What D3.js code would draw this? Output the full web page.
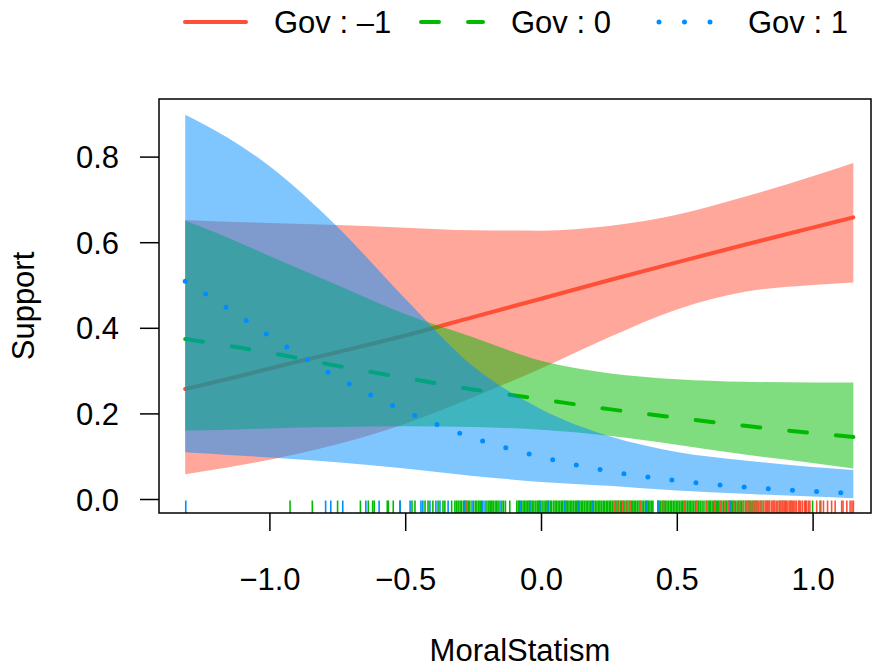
<!DOCTYPE html>
<html>
<head>
<meta charset="utf-8">
<script src="https://cdn.jsdelivr.net/npm/d3@7"></script>
<style>
  body { margin: 0; background: #fff; }
  svg { display: block; font-family: "Liberation Sans", Arial, Helvetica, sans-serif; }
</style>
</head>
<body>
<div id="chart"></div>
<script>
// effect of MoralStatism on Support, by Gov (-1, 0, 1)
const xs = [-1.31, -1.15, -1.0, -0.75, -0.5, -0.25, 0, 0.25, 0.5, 0.75, 1.0, 1.15];

const fitNeg = [0.257, 0.281, 0.305, 0.343, 0.382, 0.425, 0.468, 0.511, 0.553, 0.594, 0.634, 0.658];
const lowNeg = [0.058, 0.074, 0.092, 0.128, 0.176, 0.238, 0.305, 0.378, 0.443, 0.484, 0.500, 0.506];
const upNeg = [0.652, 0.648, 0.645, 0.640, 0.634, 0.628, 0.627, 0.638, 0.664, 0.706, 0.754, 0.785];

const fitZero = [0.374, 0.358, 0.342, 0.311, 0.283, 0.256, 0.233, 0.210, 0.190, 0.171, 0.154, 0.145];
const lowZero = [0.160, 0.162, 0.165, 0.168, 0.170, 0.168, 0.162, 0.148, 0.127, 0.104, 0.084, 0.071];
const upZero = [0.650, 0.610, 0.568, 0.500, 0.432, 0.378, 0.323, 0.294, 0.280, 0.274, 0.272, 0.272];

const fitPos = [0.509, 0.444, 0.381, 0.284, 0.205, 0.143, 0.098, 0.065, 0.043, 0.028, 0.018, 0.013];
const lowPos = [0.109, 0.103, 0.097, 0.086, 0.071, 0.054, 0.040, 0.031, 0.020, 0.012, 0.006, 0.002];
const upPos = [0.898, 0.843, 0.778, 0.636, 0.468, 0.310, 0.210, 0.147, 0.110, 0.090, 0.075, 0.068];

// rug of observed MoralStatism values
const rugNeg = [-0.272, 0.272, 0.283, 0.301, 0.317, 0.328, 0.365, 0.451, 0.53, 0.573, 0.61, 0.64,
  0.662, 0.678, 0.69, 0.71, 0.73, 0.745, 0.755, 0.762, 0.768, 0.776, 0.784, 0.79, 0.796, 0.8, 0.806,
  0.812, 0.82, 0.826, 0.83, 0.836, 0.842, 0.849, 0.854, 0.86, 0.866, 0.872, 0.88, 0.884, 0.89,
  0.896, 0.903, 0.909, 0.915, 0.92, 0.925, 0.93, 0.935, 0.94, 0.948, 0.955, 0.962, 0.97, 0.978,
  0.985, 0.99, 1.015, 1.027, 1.04, 1.055, 1.07, 1.083, 1.107, 1.112, 1.126, 1.138, 1.145, 1.15];
const rugZero = [-0.924, -0.842, -0.749, -0.665, -0.636, -0.620, -0.614, -0.566, -0.562, -0.544,
  -0.519, -0.475, -0.464, -0.427, -0.416, -0.398, -0.379, -0.361, -0.354, -0.329,
  -0.317, -0.311, -0.305, -0.298, -0.293, -0.286, -0.281, -0.275, -0.268, -0.262, -0.248, -0.241,
  -0.236, -0.229, -0.224, -0.218, -0.199, -0.192, -0.187, -0.181, -0.176, -0.169, -0.163, -0.158,
  -0.144, -0.138, -0.131, -0.115, -0.089, -0.083, -0.079, -0.072, -0.066, -0.06, -0.055, -0.049,
  -0.044, -0.037, -0.031, -0.026, -0.019, -0.013, -0.008, -0.002, 0.004, 0.011, 0.017, 0.022,
  0.028, 0.034, 0.039, 0.046, 0.052, 0.057, 0.063, 0.069, 0.075, 0.08, 0.086, 0.092, 0.097, 0.103,
  0.109, 0.114, 0.12, 0.126, 0.131, 0.137, 0.143, 0.149, 0.154, 0.16, 0.166, 0.171, 0.177, 0.183,
  0.189, 0.194, 0.2, 0.206, 0.212, 0.217, 0.223, 0.229, 0.234, 0.24, 0.246, 0.252, 0.257, 0.263,
  0.269, 0.275, 0.28, 0.286, 0.292, 0.297, 0.303, 0.309, 0.315, 0.32, 0.326, 0.332, 0.338, 0.343,
  0.349, 0.355, 0.361, 0.366, 0.372, 0.378, 0.384, 0.389, 0.395, 0.401, 0.407, 0.412, 0.43, 0.435,
  0.441, 0.447, 0.453, 0.458, 0.464, 0.47, 0.476, 0.481, 0.487, 0.493, 0.499, 0.504, 0.51, 0.516,
  0.522, 0.527, 0.533, 0.539, 0.545, 0.55, 0.556, 0.562, 0.568, 0.574, 0.58, 0.586, 0.593, 0.6,
  0.608, 0.615, 0.62, 0.624, 0.63, 0.636, 0.641, 0.645, 0.651, 0.655, 0.66, 0.666, 0.672, 0.678,
  0.684, 0.69, 0.696, 0.7, 0.705, 0.711, 0.716, 0.722, 0.728, 0.733, 0.739, 0.745, 0.752, 0.758,
  0.765, 0.77, 0.78, 0.787, 0.795, 0.81, 0.818, 0.833, 0.84, 0.858, 0.878, 0.89, 0.9, 0.92, 0.95,
  0.975, 1.0, 1.03];
const rugPos = [-1.308, -0.793, -0.774, -0.730, -0.645, -0.596, -0.519, -0.482, -0.442, -0.435,
  -0.409, -0.387, -0.372, -0.342, -0.280, -0.254, -0.214, -0.206, -0.151, -0.077, -0.041, -0.004,
  0.026, 0.088, 0.136, 0.188, 0.390, 0.431, 0.696];

const xTicks = [-1.0, -0.5, 0.0, 0.5, 1.0];
const yTicks = [0.0, 0.2, 0.4, 0.6, 0.8];

const groups = [
  { label: 'Gov : \u20131', color: '#FF4F37', fit: fitNeg, lo: lowNeg, hi: upNeg, rug: rugNeg, dash: null, width: 4 },
  { label: 'Gov : 0', color: '#00BA00', fit: fitZero, lo: lowZero, hi: upZero, rug: rugZero, dash: '18,29', width: 4 },
  { label: 'Gov : 1', color: '#008DFF', fit: fitPos, lo: lowPos, hi: upPos, rug: rugPos, dash: '0,24.2', width: 5 },
];

const W = 872, H = 667;
const FONT = '31px';
const box = { left: 159, right: 871, top: 99, bottom: 513 };

const x = d3.scaleLinear().domain([-1.4065, 1.215]).range([box.left, box.right]);
const y = d3.scaleLinear().domain([-0.0327, 0.9346]).range([box.bottom, box.top]);

const svg = d3.select('#chart').append('svg').attr('width', W).attr('height', H);

const plot = svg.append('g');

const area = d3.area()
  .x((d) => x(d.x))
  .y0((d) => y(d.lo))
  .y1((d) => y(d.hi))
  .curve(d3.curveMonotoneX);
const line = d3.line()
  .x((d) => x(d.x))
  .y((d) => y(d.y))
  .curve(d3.curveMonotoneX);

groups.forEach((g) => {
  const rows = xs.map((v, i) => ({ x: v, y: g.fit[i], lo: g.lo[i], hi: g.hi[i] }));
  plot.append('path')
    .attr('d', area(rows))
    .attr('fill', g.color)
    .attr('fill-opacity', 0.5);
  plot.append('path')
    .attr('d', line(rows))
    .attr('fill', 'none')
    .attr('stroke', g.color)
    .attr('stroke-width', g.width)
    .attr('stroke-linecap', 'round')
    .attr('stroke-dasharray', g.dash);
});

// rug: green first, then red, then blue on top
[groups[1], groups[0], groups[2]].forEach((g) => {
  plot.append('g')
    .selectAll('line')
    .data(g.rug)
    .join('line')
    .attr('x1', (d) => x(d))
    .attr('x2', (d) => x(d))
    .attr('y1', box.bottom)
    .attr('y2', box.bottom - 12.5)
    .attr('stroke', g.color)
    .attr('stroke-width', 1.6);
});

// frame
svg.append('rect')
  .attr('x', box.left)
  .attr('y', box.top)
  .attr('width', box.right - box.left)
  .attr('height', box.bottom - box.top)
  .attr('fill', 'none')
  .attr('stroke', '#000')
  .attr('stroke-width', 1.5);

const fmt = (d) => d3.format('.1f')(d).replace('-', '\u2212');

const xAxis = svg.append('g')
  .attr('transform', `translate(0,${box.bottom})`)
  .call(d3.axisBottom(x).tickValues(xTicks).tickSize(18).tickPadding(37).tickFormat(fmt));
const yAxis = svg.append('g')
  .attr('transform', `translate(${box.left},0)`)
  .call(d3.axisLeft(y).tickValues(yTicks).tickSize(19).tickPadding(21).tickFormat(fmt));

[xAxis, yAxis].forEach((a) => {
  a.select('.domain').remove();
  a.selectAll('line').attr('stroke', '#000').attr('stroke-width', 1.5);
  a.selectAll('text').attr('fill', '#000').style('font-size', FONT)
    .style('font-family', '"Liberation Sans", Arial, sans-serif');
});
yAxis.selectAll('text').attr('dy', '0.36em');

svg.append('text')
  .attr('x', 520)
  .attr('y', 661)
  .attr('text-anchor', 'middle')
  .style('font-size', FONT)
  .text('MoralStatism');

svg.append('text')
  .attr('transform', 'translate(34,306) rotate(-90)')
  .attr('text-anchor', 'middle')
  .style('font-size', FONT)
  .text('Support');

// legend
const legendItems = [
  { g: groups[0], x1: 185, x2: 246, tx: 274, dash: null },
  { g: groups[1], x1: 421, x2: 483, tx: 511, dash: '18,29' },
  { g: groups[2], x1: 659, x2: 711, tx: 748, dash: '0,25.5' },
];
const legend = svg.append('g');
legendItems.forEach((it) => {
  legend.append('line')
    .attr('x1', it.x1).attr('x2', it.x2)
    .attr('y1', 22).attr('y2', 22)
    .attr('stroke', it.g.color)
    .attr('stroke-width', it.g.width)
    .attr('stroke-linecap', 'round')
    .attr('stroke-dasharray', it.dash);
  legend.append('text')
    .attr('x', it.tx)
    .attr('y', 22)
    .attr('dy', '0.36em')
    .style('font-size', FONT)
    .text(it.g.label);
});
</script>
</body>
</html>
